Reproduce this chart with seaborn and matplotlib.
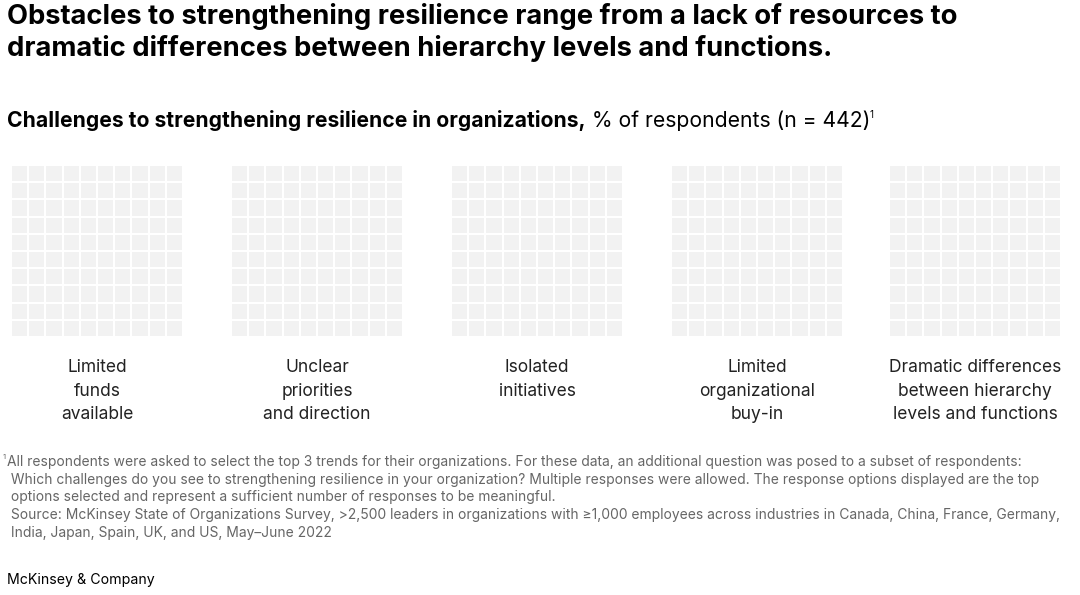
import numpy as np
import matplotlib
matplotlib.use("Agg")
import matplotlib.pyplot as plt
from matplotlib.colors import ListedColormap
import seaborn as sns

# Dados do gráfico
categories = [
    "Limited\nfunds\navailable",
    "Unclear\npriorities\nand direction",
    "Isolated\ninitiatives",
    "Limited\norganizational\nbuy-in",
    "Dramatic differences\nbetween hierarchy\nlevels and functions",
]
grid_rows = 10
grid_cols = 10
filled_cells = [0, 0, 0, 0, 0]  # nenhum quadrado destacado na imagem

title = ("Obstacles to strengthening resilience range from a lack of resources to\n"
         "dramatic differences between hierarchy levels and functions.")
subtitle_bold = "Challenges to strengthening resilience in organizations,"
subtitle_rest = " % of respondents (n = 442)"
footnote = ("All respondents were asked to select the top 3 trends for their organizations. "
            "For these data, an additional question was posed to a subset of respondents:\n"
            " Which challenges do you see to strengthening resilience in your organization? "
            "Multiple responses were allowed. The response options displayed are the top\n"
            " options selected and represent a sufficient number of responses to be meaningful.\n"
            " Source: McKinsey State of Organizations Survey, >2,500 leaders in organizations with "
            "\u22651,000 employees across industries in Canada, China, France, Germany,\n"
            " India, Japan, Spain, UK, and US, May\u2013June 2022")

sns.set_style("white")
plt.rcParams["font.family"] = ["Inter", "DejaVu Sans"]

W, H = 1080, 595
fig = plt.figure(figsize=(W / 100, H / 100), dpi=100)

panel_left = [11, 231, 451, 671, 889]
panel_w, panel_top, panel_h = 172, 165, 172
cmap = ListedColormap(["#f2f2f2", "#051c2c"])

for i, cat in enumerate(categories):
    ax = fig.add_axes([panel_left[i] / W, 1 - (panel_top + panel_h) / H, panel_w / W, panel_h / H])
    cells = np.zeros(grid_rows * grid_cols)
    cells[:filled_cells[i]] = 1
    sns.heatmap(cells.reshape(grid_rows, grid_cols), ax=ax, cmap=cmap, vmin=0, vmax=1,
                cbar=False, linewidths=1.4, linecolor="white", square=False,
                xticklabels=False, yticklabels=False)
    ax.set_xticks([])
    ax.set_yticks([])
    cx = (panel_left[i] + panel_w / 2) / W
    fig.text(cx, 1 - 359 / H, cat, ha="center", va="top", fontsize=12.5,
             color="#222222", linespacing=1.5)

# Títulos
fig.text(7 / W, 1 - 3 / H, title, ha="left", va="top", fontsize=19.7,
         fontweight="bold", color="#000000", linespacing=1.25)

t1 = fig.text(7 / W, 1 - 127 / H, subtitle_bold, ha="left", va="baseline",
              fontsize=15.2, fontweight="bold", color="#000000")
fig.canvas.draw()
r = fig.canvas.get_renderer()
bb = t1.get_window_extent(r)
t2 = fig.text(bb.x1 / W, 1 - 127 / H, subtitle_rest, ha="left", va="baseline",
              fontsize=15.2, color="#000000")
bb2 = t2.get_window_extent(r)
fig.text(bb2.x1 / W, 1 - 118 / H, "1", ha="left", va="baseline", fontsize=7, color="#000000")

# Nota de rodapé
fig.text(3 / W, 1 - 459 / H, "1", ha="left", va="baseline", fontsize=5.5, color="#666666")
fig.text(7 / W, 1 - 455 / H, footnote, ha="left", va="top", fontsize=9.97,
         color="#666666", linespacing=1.33)

fig.text(7 / W, 1 - 573 / H, "McKinsey & Company", ha="left", va="top", fontsize=10.2,
         color="#000000")

fig.savefig("out.png", dpi=100)
